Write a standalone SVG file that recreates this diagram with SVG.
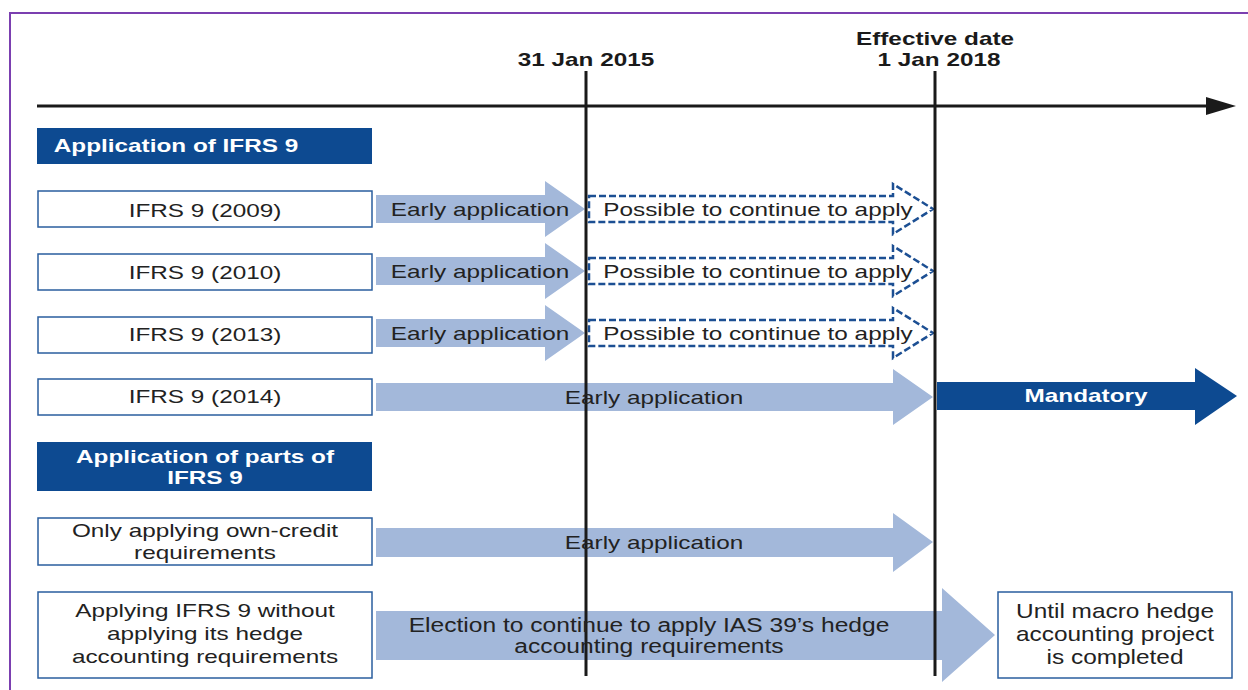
<svg xmlns="http://www.w3.org/2000/svg" width="1248" height="690" viewBox="0 0 1248 690">
  <defs>
    <style>
      text { font-family: "Liberation Sans", Arial, sans-serif; fill: #222; font-size: 19px; text-anchor: middle; }
      .tall { font-size: 20px; }
      .date { font-weight: bold; fill: #1a1a1a; }
      .hdr { fill: #0d4a91; }
      .hdrtxt { font-weight: bold; fill: #fff; }
      .box { fill: #fff; stroke: #2a5e9e; stroke-width: 1.5; }
      .early { fill: #a3b8da; }
      .dash { fill: #fff; stroke: #1c4f93; stroke-width: 2.5; stroke-dasharray: 7 3; }
      .mand { fill: #0d4a91; }
      .vline { stroke: #1a1a1a; stroke-width: 3; }
    </style>
  </defs>

  <rect width="1248" height="690" fill="#fff"/>
  <!-- frame -->
  <path d="M10,690 V13 H1248" fill="none" stroke="#7b3fb0" stroke-width="2"/>

  <!-- timeline axis and date labels (text is set wide: scale 1.28 horizontally) -->
  <g id="timeline">
    <line x1="37" y1="106" x2="1212" y2="106" stroke="#1a1a1a" stroke-width="3"/>
    <polygon points="1206,97 1236,106 1206,115" fill="#1a1a1a"/>
    <text class="date" transform="translate(586,66) scale(1.28,1)">31 Jan 2015</text>
    <text class="date" transform="translate(935,45) scale(1.28,1)">Effective date</text>
    <text class="date" transform="translate(939,66) scale(1.28,1)">1 Jan 2018</text>
  </g>

  <!-- connectors: period arrows -->
  <g id="connectors">
    <polygon class="early" points="376,195 545,195 545,181 585,209 545,237 545,223 376,223"/>
    <polygon class="early" points="376,257 545,257 545,243 585,271 545,299 545,285 376,285"/>
    <polygon class="early" points="376,319 545,319 545,305 585,333 545,361 545,347 376,347"/>
    <polygon class="dash" points="589,196 893,196 893,184 933,209 893,234 893,222 589,222"/>
    <polygon class="dash" points="589,258 893,258 893,246 933,271 893,296 893,284 589,284"/>
    <polygon class="dash" points="589,320 893,320 893,308 933,333 893,358 893,346 589,346"/>
    <polygon class="early" points="376,383 893,383 893,369 933,397 893,425 893,411 376,411"/>
    <polygon class="mand" points="937,382 1195,382 1195,368 1237,396 1195,425 1195,410 937,410"/>
    <polygon class="early" points="376,528 893,528 893,513 933,542 893,572 893,557 376,557"/>
    <polygon class="early" points="376,611 942,611 942,588 995,635 942,682 942,660 376,660"/>
  </g>

  <!-- date verticals -->
  <g id="markers">
    <line class="vline" x1="586" y1="71" x2="586" y2="676"/>
    <line class="vline" x1="935" y1="71" x2="935" y2="676"/>
  </g>

  <!-- arrow labels -->
  <g id="arrow-labels">
    <text transform="translate(480,216) scale(1.28,1)">Early application</text>
    <text transform="translate(480,278) scale(1.28,1)">Early application</text>
    <text transform="translate(480,340) scale(1.28,1)">Early application</text>
    <text transform="translate(758,216) scale(1.28,1)">Possible to continue to apply</text>
    <text transform="translate(758,278) scale(1.28,1)">Possible to continue to apply</text>
    <text transform="translate(758,340) scale(1.28,1)">Possible to continue to apply</text>
    <text transform="translate(654,404) scale(1.28,1)">Early application</text>
    <text class="hdrtxt" transform="translate(1086,402) scale(1.28,1)">Mandatory</text>
    <text transform="translate(654,549) scale(1.28,1)">Early application</text>
    <text class="tall" transform="translate(649,632) scale(1.23,1)">Election to continue to apply IAS 39’s hedge</text>
    <text class="tall" transform="translate(649,653) scale(1.23,1)">accounting requirements</text>
  </g>

  <g id="hdr-ifrs9">
    <rect class="hdr" x="37" y="128" width="335" height="36"/>
    <text class="hdrtxt" transform="translate(176,152) scale(1.28,1)">Application of IFRS 9</text>
  </g>
  <g id="ifrs9-2009">
    <rect class="box" x="38" y="191" width="334" height="36"/>
    <text transform="translate(205,217) scale(1.28,1)">IFRS 9 (2009)</text>
  </g>
  <g id="ifrs9-2010">
    <rect class="box" x="38" y="254" width="334" height="36"/>
    <text transform="translate(205,279) scale(1.28,1)">IFRS 9 (2010)</text>
  </g>
  <g id="ifrs9-2013">
    <rect class="box" x="38" y="317" width="334" height="36"/>
    <text transform="translate(205,341) scale(1.28,1)">IFRS 9 (2013)</text>
  </g>
  <g id="ifrs9-2014">
    <rect class="box" x="38" y="379" width="334" height="36"/>
    <text transform="translate(205,403) scale(1.28,1)">IFRS 9 (2014)</text>
  </g>

  <g id="hdr-parts">
    <rect class="hdr" x="37" y="442" width="335" height="49"/>
    <text class="hdrtxt" transform="translate(205,463) scale(1.28,1)">Application of parts of</text>
    <text class="hdrtxt" transform="translate(205,484) scale(1.28,1)">IFRS 9</text>
  </g>
  <g id="own-credit">
    <rect class="box" x="38" y="518" width="334" height="47"/>
    <text transform="translate(205,537) scale(1.28,1)">Only applying own-credit</text>
    <text transform="translate(205,559) scale(1.28,1)">requirements</text>
  </g>
  <g id="without-hedge">
    <rect class="box" x="38" y="592" width="334" height="86"/>
    <text transform="translate(205,617) scale(1.28,1)">Applying IFRS 9 without</text>
    <text transform="translate(205,640) scale(1.28,1)">applying its hedge</text>
    <text transform="translate(205,663) scale(1.28,1)">accounting requirements</text>
  </g>
  <g id="macro-hedge">
    <rect class="box" x="998" y="592" width="234" height="86"/>
    <text class="tall" transform="translate(1115,618) scale(1.22,1)">Until macro hedge</text>
    <text class="tall" transform="translate(1115,641) scale(1.22,1)">accounting project</text>
    <text class="tall" transform="translate(1115,664) scale(1.22,1)">is completed</text>
  </g>
</svg>
